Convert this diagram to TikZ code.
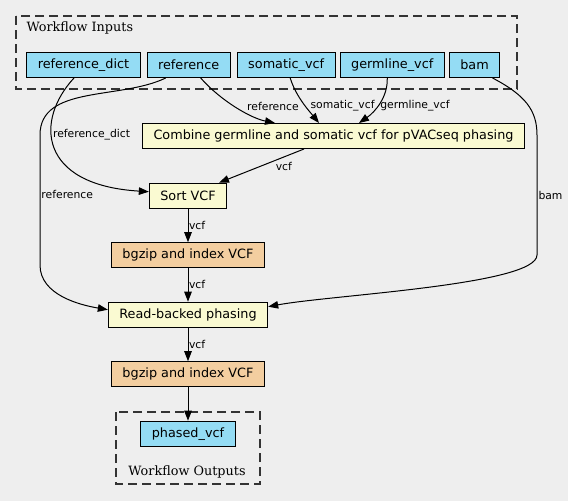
\documentclass[tikz,border=0pt]{standalone}
\usepackage{fontspec}
\setmainfont{DejaVu Serif}
\setsansfont{DejaVu Sans}
\usetikzlibrary{arrows.meta, positioning}
\definecolor{CanvasGrey}{RGB}{238, 238, 238}
\definecolor{InputBlue}{RGB}{148, 220, 244}
\definecolor{StepYellow}{RGB}{250, 250, 210}
\definecolor{StepOrange}{RGB}{243, 206, 160}

\begin{document}
\begin{tikzpicture}[
        x = 1pt, y = -1pt,
        box/.style = {draw = black, line width = 1pt, inner xsep = 11pt, inner ysep = 0pt, minimum height = 25pt, font = \sffamily\fontsize{12.8}{14}\selectfont},
        io/.style = {box, fill = InputBlue},
        task/.style = {box, fill = StepYellow},
        zip/.style = {box, fill = StepOrange},
        lab/.style = {font = \sffamily\fontsize{10.8}{12}\selectfont, inner sep = 1pt},
        arr/.style = {-{Triangle[length = 10pt, width = 7.5pt]}, line width = 1pt, black},
        cluster/.style = {dash pattern = on 9pt off 5pt, line width = 1.2pt, black!80},
        title/.style = {font = \fontsize{12.8}{14}\selectfont}
    ]
        \fill[CanvasGrey] (0,0) rectangle (568,501);
        \useasboundingbox (0,0) rectangle (568,501);

        % workflow inputs
        \draw[cluster] (16,16) rectangle (517,89);
        \node[title, anchor = west] (intitle) at (23,28) {Workflow Inputs};

        \node[io] (refdict) at (83.5,65) {reference\_dict};
        \node[io, right = 6pt of refdict] (ref) {reference};
        \node[io, right = 6pt of ref] (somatic) {somatic\_vcf};
        \node[io, right = 4pt of somatic] (germline) {germline\_vcf};
        \node[io, right = 4pt of germline] (bam) {bam};

        % steps
        \node[task] (combine) at (333.5,136) {Combine germline and somatic vcf for pVACseq phasing};
        \node[task] (sort) at (188,195.7) {Sort VCF};
        \node[zip, below = 33.5pt of sort] (zip1) {bgzip and index VCF};
        \node[task, below = 33.5pt of zip1] (phase) {Read-backed phasing};
        \node[zip, below = 33.5pt of phase] (zip2) {bgzip and index VCF};

        % workflow outputs
        \draw[cluster] (116,412) rectangle (260,484);
        \node[io, below = 33.5pt of zip2] (phased) {phased\_vcf};
        \node[title] (outtitle) at (187,472) {Workflow Outputs};

        \draw[arr] ([xshift = -9.5pt]refdict.south) .. controls (35,120) and (38,185) .. ([yshift = 4pt]sort.west)
            node[lab, pos = 0.4, anchor = west] {reference\_dict};
        \draw[arr] ([xshift = -23pt]ref.south) .. controls (120,100) and (40,85) .. (40,135)
            -- (40,265) node[lab, pos = 0.46, anchor = west] {reference}
            .. controls (40,295) and (80,305) .. ([yshift = 5pt]phase.west);
        \draw[arr] ([xshift = 12pt]ref.south) .. controls (220,100) and (250,118) .. ([xshift = -58.5pt]combine.north)
            node[lab, pos = 0.5, right = 10pt] {reference};
        \draw[arr] ([xshift = 4pt]somatic.south) .. controls (296,97) and (310,112) .. ([xshift = -14.5pt]combine.north)
            node[lab, pos = 0.55, right = 4pt] {somatic\_vcf};
        \draw[arr] ([xshift = -5pt]germline.south) .. controls (388,97) and (375,112) .. ([xshift = 25.5pt]combine.north)
            node[lab, pos = 0.55, right = 1pt] {germline\_vcf};
        \draw[arr] ([xshift = 18pt]bam.south) .. controls (525,95) and (537,110) .. (537,135)
            -- (537,255) node[lab, pos = 0.5, anchor = west] {bam}
            .. controls (537,285) and (330,295) .. ([yshift = 8pt]phase.east);

        \draw[arr] ([xshift = -29.5pt]combine.south) -- ([xshift = 31pt]sort.north)
            node[lab, pos = 0.35, anchor = north west] {vcf};
        \draw[arr] (sort) -- node[lab, anchor = west, inner sep = 0.5pt] {vcf} (zip1);
        \draw[arr] (zip1) -- node[lab, anchor = west, inner sep = 0.5pt] {vcf} (phase);
        \draw[arr] (phase) -- node[lab, anchor = west, inner sep = 0.5pt] {vcf} (zip2);
        \draw[arr] (zip2) -- (phased);
    \end{tikzpicture}
\end{document}
